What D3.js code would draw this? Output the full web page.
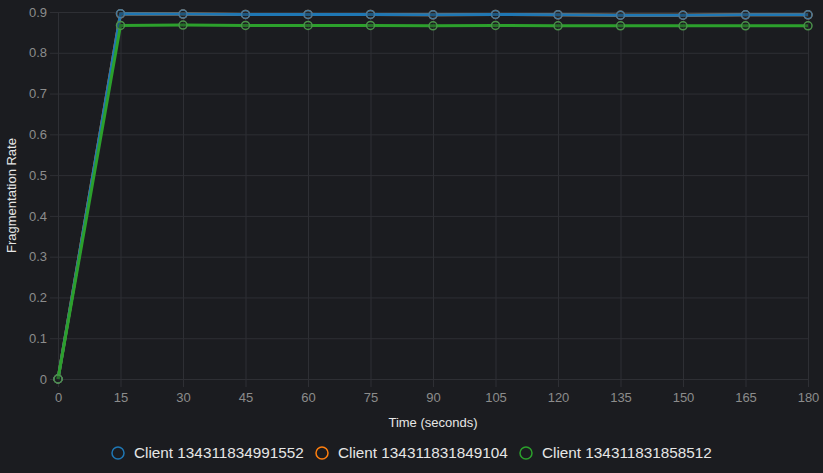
<!DOCTYPE html>
<html><head><meta charset="utf-8">
<script src="https://cdn.jsdelivr.net/npm/d3@7"></script>
<style>
html,body{margin:0;padding:0;background:#1b1c20;}
svg{display:block;font-family:"Liberation Sans",Arial,sans-serif;}
</style></head>
<body><svg id="c" width="823" height="473"></svg>
<script>
const times = [0,15,30,45,60,75,90,105,120,135,150,165,180];
const seriesNames = ["Client 134311834991552","Client 134311831849104","Client 134311831858512"];
const seriesColors = ["#1f77b4","#ff7f0e","#2ca02c"];
const clientA = [0,0.896,0.895,0.894,0.894,0.894,0.893,0.894,0.893,0.892,0.892,0.893,0.893];
const clientB = [0,0.8955,0.895,0.894,0.894,0.894,0.893,0.894,0.893,0.892,0.892,0.893,0.893];
const clientC = [0,0.867,0.868,0.867,0.867,0.867,0.866,0.867,0.866,0.866,0.866,0.866,0.866];
const yTicks = [0,0.1,0.2,0.3,0.4,0.5,0.6,0.7,0.8,0.9];
const xTicks = [0,15,30,45,60,75,90,105,120,135,150,165,180];

const svg = d3.select("#c");
const m = {l:58,r:808,t:12,b:379};
const x = d3.scaleLinear().domain([0,180]).range([m.l,m.r]);
const y = d3.scaleLinear().domain([0,0.9]).range([m.b,m.t]);
const grid = "#2e2f34";

// grid
const gx = svg.append("g").attr("transform",`translate(0,${m.b})`)
  .call(d3.axisBottom(x).tickValues(xTicks).tickSize(-(m.b-m.t)).tickPadding(0).tickFormat(""));
gx.select(".domain").remove();
gx.selectAll("line").attr("stroke",grid);
const gy = svg.append("g").attr("transform",`translate(${m.l},0)`)
  .call(d3.axisLeft(y).tickValues(yTicks).tickSize(-(m.r-m.l)).tickFormat(""));
gy.select(".domain").remove();
gy.selectAll("line").attr("stroke",grid);

// axes with ticks & labels
const ax = svg.append("g").attr("transform",`translate(0,${m.b})`)
  .call(d3.axisBottom(x).tickValues(xTicks).tickSize(8).tickPadding(6).tickFormat(d3.format("d")));
ax.select(".domain").attr("stroke",grid);
ax.selectAll("line").attr("stroke",grid);
ax.selectAll("text").attr("fill","#8c8c8c").attr("font-size",13).attr("font-family","Liberation Sans, Arial, sans-serif");
const ay = svg.append("g").attr("transform",`translate(${m.l},0)`)
  .call(d3.axisLeft(y).tickValues(yTicks).tickSize(8).tickPadding(3).tickFormat(d=>d===0?"0":d3.format(".1f")(d)));
ay.select(".domain").attr("stroke",grid);
ay.selectAll("line").attr("stroke",grid);
ay.selectAll("text").attr("fill","#8c8c8c").attr("font-size",13).attr("font-family","Liberation Sans, Arial, sans-serif");

// titles
svg.append("text").attr("x",(m.l+m.r)/2).attr("y",427).attr("text-anchor","middle")
  .attr("fill","#e6e6e6").attr("font-size",13).text("Time (seconds)");
svg.append("text").attr("transform",`translate(16,${(m.t+m.b)/2}) rotate(-90)`).attr("text-anchor","middle")
  .attr("fill","#e6e6e6").attr("font-size",13).text("Fragmentation Rate");

// lines
const data = [clientA, clientB, clientC];
const order = [1,0,2];
const line = d3.line().x((d,i)=>x(times[i])).y(d=>y(d));
order.forEach(si=>{
  const vals = data[si], col = seriesColors[si];
  const g = svg.append("g");
  g.append("path").datum(vals).attr("d",line).attr("fill","none")
    .attr("stroke",col).attr("stroke-width",3).attr("stroke-linejoin","round");
  g.selectAll("circle").data(vals).join("circle")
    .attr("cx",(d,i)=>x(times[i])).attr("cy",d=>y(d)).attr("r",4)
    .attr("fill","#1b1c20").attr("fill-opacity",0.35)
    .attr("stroke",d3.interpolateRgb(col,"#7a7a7a")(0.4)).attr("stroke-width",1.5);
});

// legend
const lg = svg.append("g");
const lx = [118,322,526];
seriesNames.forEach((n,i)=>{
  lg.append("circle").attr("cx",lx[i]).attr("cy",453).attr("r",6)
    .attr("fill","none").attr("stroke",seriesColors[i]).attr("stroke-width",1.5);
  lg.append("text").attr("x",lx[i]+16).attr("y",458).attr("fill","#e6e6e6")
    .attr("font-size",15.3).text(n);
});
</script></body></html>
